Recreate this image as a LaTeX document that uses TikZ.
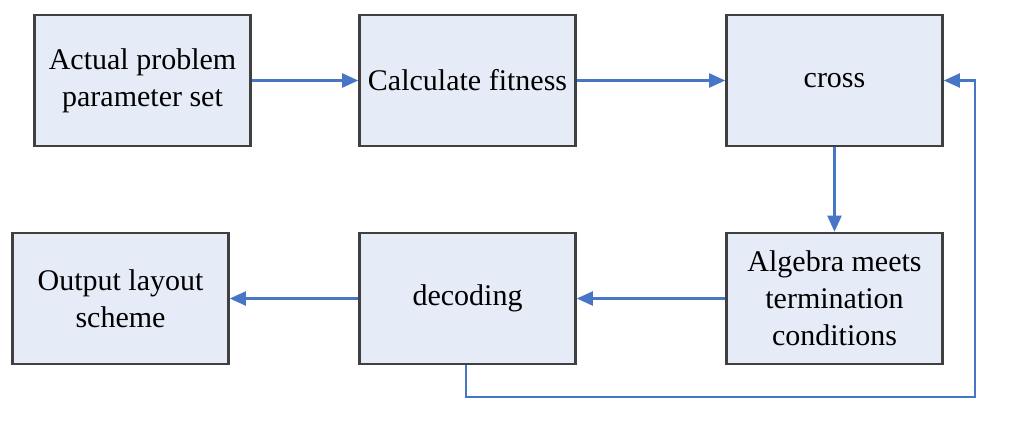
\documentclass[tikz,border=0pt]{standalone}
\usepackage{fontspec}
\setmainfont{Liberation Serif}
\usetikzlibrary{arrows.meta}
\definecolor{boxfill}{RGB}{230,236,247}
\definecolor{boxline}{RGB}{64,64,64}
\definecolor{arrowblue}{RGB}{72,118,198}
\tikzset{
  stepbox/.style={draw=boxline, line width=2.6pt, fill=boxfill, minimum width=216pt, minimum height=131pt, align=center, font=\fontsize{30}{37}\selectfont, inner sep=0pt},
  flow/.style={draw=arrowblue, line width=2.2pt, -{Triangle[length=16pt,width=14pt]}}
}
\begin{document}
\begin{tikzpicture}[x=1pt,y=-1pt]
\useasboundingbox (0,0) rectangle (1019,432);
\node[stepbox] (a) at (142.5,80.5) {Actual problem\\parameter set};
\node[stepbox] (b) at (467.5,80.5) {Calculate fitness};
\node[stepbox] (c) at (834.5,80.5) {cross};
\node[stepbox] (f) at (120.5,298.5) {Output layout\\scheme};
\node[stepbox] (e) at (467.5,298.5) {decoding};
\node[stepbox] (d) at (834.5,298.5) {Algebra meets\\termination\\conditions};
\coordinate (fb1) at (466,397);
\coordinate (fb2) at (975,397);
\coordinate (fb3) at (975,80.5);
\draw[flow] (a) -- (b);
\draw[flow] (b) -- (c);
\draw[flow] (c) -- (d);
\draw[flow] (d) -- (e);
\draw[flow] (e) -- (f);
\draw[flow] (e.south -| fb1) -- (fb1) -- (fb2) -- (fb3) -- (c.east);
\end{tikzpicture}
\end{document}
